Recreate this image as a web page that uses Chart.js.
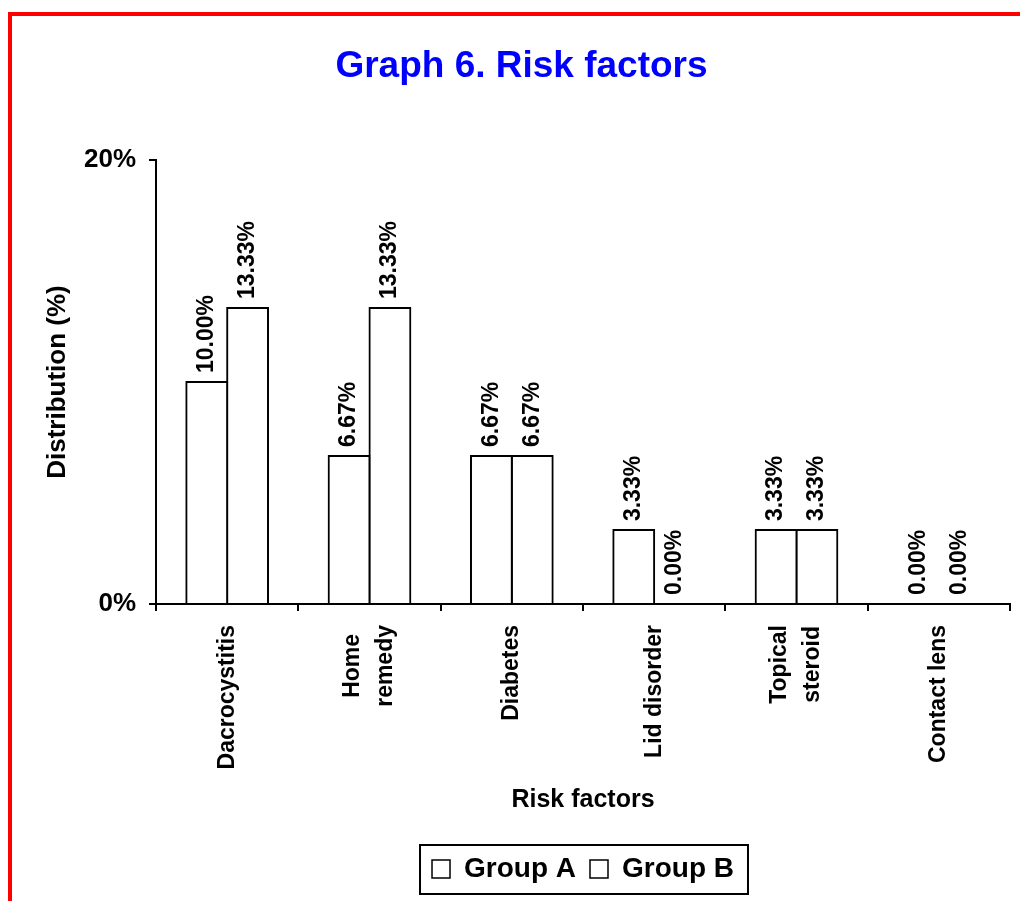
<!DOCTYPE html>
<html>
<head>
<meta charset="utf-8">
<title>Graph 6. Risk factors</title>
<script src="https://cdn.jsdelivr.net/npm/chart.js@4.4.1/dist/chart.umd.min.js"></script>
<style>
  html, body { margin: 0; padding: 0; background: #fff; width: 1020px; height: 901px; overflow: hidden; }
  #wrap { position: relative; width: 1020px; height: 901px; }
  canvas { position: absolute; left: 0; top: 0; }
  #title {
    position: absolute; left: 0; top: 46px; width: 1043px; text-align: center;
    font: bold 37px "Liberation Sans", Arial, sans-serif; line-height: 37px; color: #0000ff;
  }
  #frame {
    position: absolute; left: 8px; top: 12px; width: 1040px; height: 920px;
    border-top: 4px solid #ff0000; border-left: 4px solid #ff0000; pointer-events: none;
  }
</style>
</head>
<body>
<div id="wrap">
  <canvas id="chart" width="1020" height="901"></canvas>
  <div id="title">Graph 6. Risk factors</div>
  <div id="frame"></div>
</div>
<script>
// Risk factor categories (one entry per line of the axis label)
const categories = [
  ['Dacrocystitis'],
  ['Home', 'remedy'],
  ['Diabetes'],
  ['Lid disorder'],
  ['Topical', 'steroid'],
  ['Contact lens']
];
const seriesNames = ['Group A', 'Group B'];
const groupA = [10.00, 6.67, 6.67, 3.33, 3.33, 0.00];
const groupB = [13.33, 13.33, 6.67, 0.00, 3.33, 0.00];
const yTickValues = [0, 20];

const FONT = '"Liberation Sans", Arial, sans-serif';
Chart.defaults.font.family = FONT;
Chart.defaults.color = '#000';

// Rotated, centred multi-line category labels under the x axis
const categoryLabels = {
  id: 'categoryLabels',
  afterDraw(chart) {
    const xs = chart.scales.x;
    const ctx = chart.ctx;
    ctx.save();
    ctx.font = 'bold 23px ' + FONT;
    ctx.fillStyle = '#000';
    ctx.textAlign = 'center';
    ctx.textBaseline = 'middle';
    categories.forEach((lines, i) => {
      const cx = xs.getPixelForValue(i);
      const maxW = Math.max(...lines.map(l => ctx.measureText(l).width));
      const cy = xs.top + 21 + maxW / 2;
      lines.forEach((line, j) => {
        ctx.save();
        ctx.translate(cx + (j - (lines.length - 1) / 2) * 33, cy);
        ctx.rotate(-Math.PI / 2);
        ctx.fillText(line, 0, 0);
        ctx.restore();
      });
    });
    ctx.restore();
  }
};

// Percentage value written vertically above each bar
const valueLabels = {
  id: 'valueLabels',
  afterDatasetsDraw(chart) {
    const ctx = chart.ctx;
    ctx.save();
    ctx.font = 'bold 23px ' + FONT;
    ctx.fillStyle = '#000';
    ctx.textAlign = 'left';
    ctx.textBaseline = 'middle';
    chart.data.datasets.forEach((ds, di) => {
      chart.getDatasetMeta(di).data.forEach((bar, i) => {
        ctx.save();
        ctx.translate(bar.x, bar.y - 9);
        ctx.rotate(-Math.PI / 2);
        ctx.fillText(ds.data[i].toFixed(2) + '%', 0, 0);
        ctx.restore();
      });
    });
    ctx.restore();
  }
};

// Box drawn around the legend entries
const legendFrame = {
  id: 'legendFrame',
  afterDraw(chart) {
    const hb = chart.legend && chart.legend.legendHitBoxes;
    if (!hb || !hb.length) return;
    const first = hb[0], last = hb[hb.length - 1];
    const l = first.left - 12, r = last.left + last.width + 14;
    const t = first.top - 10, b = first.top + first.height + 11;
    const ctx = chart.ctx;
    ctx.save();
    ctx.strokeStyle = '#000';
    ctx.lineWidth = 2;
    ctx.strokeRect(l, t, r - l, b - t);
    ctx.restore();
  }
};

// Outline bars; inflating by 1px lets neighbouring borders share one 2px line
const barStyle = {
  backgroundColor: '#ffffff',
  borderColor: '#000000',
  borderWidth: { top: 2, left: 2, right: 2, bottom: 0 },
  borderSkipped: false,
  inflateAmount: 1,
  categoryPercentage: 0.574,
  barPercentage: 1.0
};

new Chart(document.getElementById('chart'), {
  type: 'bar',
  data: {
    labels: categories,
    datasets: [
      Object.assign({ label: seriesNames[0], data: groupA }, barStyle),
      Object.assign({ label: seriesNames[1], data: groupB }, barStyle)
    ]
  },
  options: {
    responsive: false,
    maintainAspectRatio: false,
    animation: false,
    devicePixelRatio: 1,
    events: [],
    layout: { padding: { top: 160, left: 0, right: 10, bottom: 8 } },
    plugins: {
      title: { display: false },
      tooltip: { enabled: false },
      legend: {
        display: true,
        position: 'bottom',
        fullSize: false,
        labels: {
          color: '#000',
          font: { size: 28, weight: 'bold' },
          boxWidth: 18,
          boxHeight: 18,
          padding: 14,
          generateLabels(chart) {
            const items = Chart.defaults.plugins.legend.labels.generateLabels(chart);
            items.forEach(it => {
              it.fillStyle = '#ffffff';
              it.strokeStyle = '#000000';
              it.lineWidth = 1.5;
            });
            return items;
          }
        }
      }
    },
    scales: {
      x: {
        grid: {
          display: true, drawOnChartArea: false, drawTicks: true,
          tickLength: 7, color: '#000', lineWidth: 2, offset: true
        },
        border: { display: true, color: '#000', width: 2 },
        ticks: { display: false },
        title: {
          display: true, text: 'Risk factors', color: '#000',
          font: { size: 25, weight: 'bold' }, padding: { top: 0, bottom: 26 }
        },
        afterFit(scale) { scale.height = 237; }
      },
      y: {
        min: 0,
        max: 20,
        afterBuildTicks(scale) { scale.ticks = yTickValues.map(v => ({ value: v })); },
        grid: { drawOnChartArea: false, drawTicks: true, tickLength: 7, color: '#000', lineWidth: 2 },
        border: { display: true, color: '#000', width: 2 },
        ticks: {
          padding: 13, color: '#000',
          font: { size: 26, weight: 'bold' },
          callback: v => v + '%'
        },
        title: {
          display: true, text: 'Distribution (%)', color: '#000',
          font: { size: 26, weight: 'bold' }, padding: { top: 42, bottom: 0 }
        },
        afterFit(scale) { scale.width = 156; }
      }
    }
  },
  plugins: [valueLabels, categoryLabels, legendFrame]
});
</script>
</body>
</html>
